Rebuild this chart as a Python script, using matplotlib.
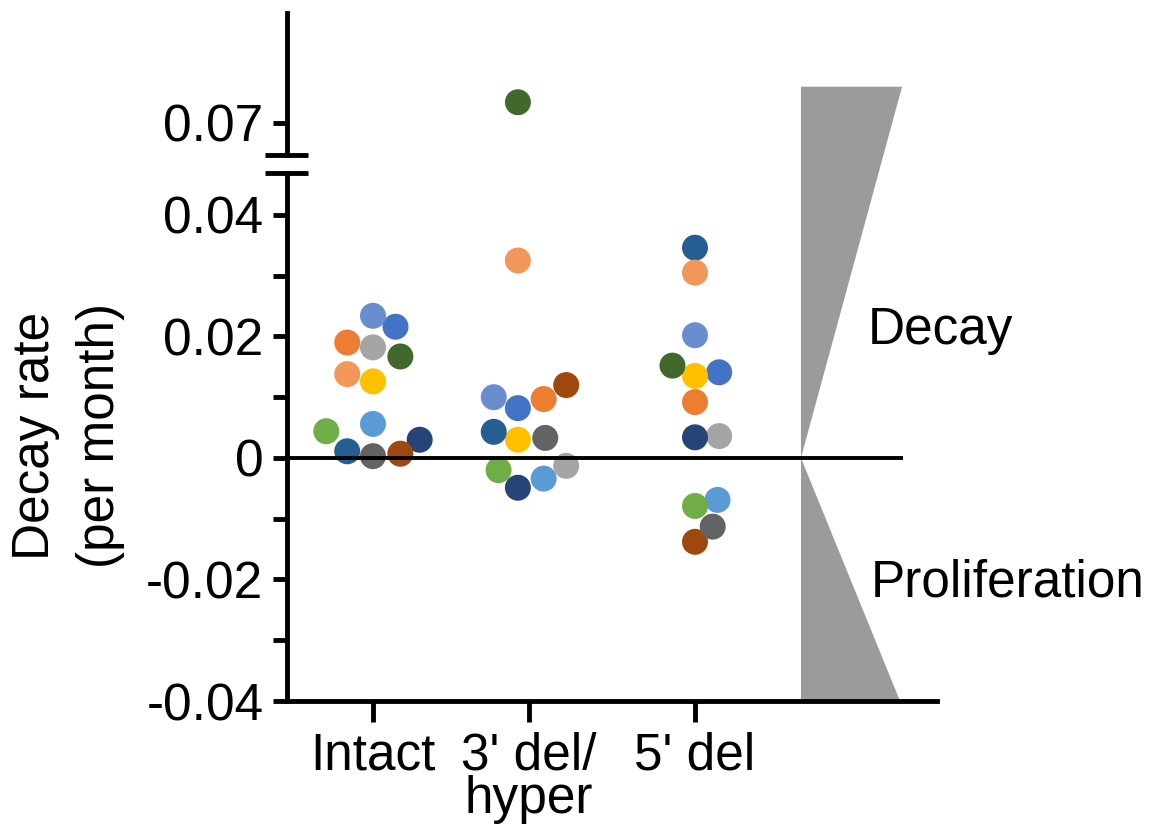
"""
Decay rate of proviral populations per participant, grouped by provirus type.
Broken y axis (0.07 shown on a separate upper segment).
"""

import numpy as np
import matplotlib
matplotlib.use('Agg')
import matplotlib.pyplot as plt
from matplotlib.lines import Line2D
from matplotlib.patches import Polygon

plt.rcParams['font.family'] = ['Liberation Sans', 'DejaVu Sans']

# Data -- one value per participant, same colour order in every group
GROUPS = ['Intact', "3' del/\nhyper", "5' del"]
GROUP_POS = [1, 1.97, 3]

COLORS = ['#4472C4', '#ED7D31', '#A5A5A5', '#FFC000', '#5B9BD5', '#70AD47',
          '#264478', '#9E480E', '#636363', '#255E91', '#43682B', '#698ED0',
          '#F1975A']

intact = [0.0216, 0.0190, 0.0182, 0.0126, 0.0056, 0.0044, 0.0030, 0.0007,
          0.0003, 0.0011, 0.0167, 0.0234, 0.0138]
del3_hyper = [0.0082, 0.0097, -0.0013, 0.0030, -0.0034, -0.0020, -0.0049,
              0.0120, 0.0033, 0.0043, 0.0734, 0.0100, 0.0325]
del5 = [0.0141, 0.0092, 0.0036, 0.0135, -0.0069, -0.0079, 0.0034, -0.0138,
        -0.0113, 0.0346, 0.0152, 0.0202, 0.0305]

# swarm offsets, in category units, so the dots do not sit on each other
off_intact = [0.14, -0.16, 0.0, 0.0, 0.0, -0.29, 0.29, 0.17, 0.0, -0.16,
              0.17, 0.0, -0.16]
off_del3 = [-0.07, 0.09, 0.23, -0.07, 0.09, -0.19, -0.07, 0.23, 0.10, -0.22,
            -0.07, -0.22, -0.07]
off_del5 = [0.15, 0.0, 0.15, 0.0, 0.14, 0.0, 0.0, 0.0, 0.11, 0.0, -0.14,
            0.0, 0.0]

W, H = 1153, 825
FS = 37
GREY = '#9b9b9b'


def px_box(left, top, right, bottom):
    return [left / W, 1 - bottom / H, (right - left) / W, (bottom - top) / H]


fig = plt.figure(figsize=(W / 100, H / 100), dpi=100)
fig.patch.set_facecolor('white')

ax = fig.add_axes(px_box(287, 173, 937, 701))
ax_top = fig.add_axes(px_box(287, 13, 937, 155))

XLIM = (0.466, 4.503)
for a in (ax, ax_top):
    a.set_xlim(*XLIM)
    a.patch.set_alpha(0)
    for s in ('top', 'right'):
        a.spines[s].set_visible(False)
    a.spines['left'].set_linewidth(3.5)

ax.set_ylim(-0.04, 0.0469)
ax_top.set_ylim(0.06475, 0.08803)
ax_top.spines['bottom'].set_visible(False)
ax.spines['bottom'].set_linewidth(3.5)

# points, drawn on both segments; clipping keeps each in its own part
for pos, vals, offs in zip(GROUP_POS, [intact, del3_hyper, del5],
                           [off_intact, off_del3, off_del5]):
    x = pos + np.array(offs)
    for a in (ax, ax_top):
        a.scatter(x, vals, s=350, c=COLORS, edgecolors='none', zorder=3)

# zero line
ax.hlines(0, XLIM[0], 4.29, color='black', lw=2.8, zorder=4)

# decay / proliferation wedges
ax.add_patch(Polygon([(3.658, 0.0611), (4.286, 0.0611), (3.658, 0.0)],
                     closed=True, facecolor=GREY, edgecolor='none',
                     clip_on=False, zorder=1))
ax.add_patch(Polygon([(3.658, 0.0), (3.658, -0.04), (4.273, -0.04)],
                     closed=True, facecolor=GREY, edgecolor='none',
                     clip_on=False, zorder=1))
ax.text(4.07, 0.0187, 'Decay', fontsize=FS, ha='left', va='baseline')
ax.text(4.09, -0.0228, 'Proliferation', fontsize=FS, ha='left',
        va='baseline')

# y ticks
yt = np.round(np.arange(-0.04, 0.0401, 0.01), 2)
ylabels = []
for v in yt:
    if abs(v) < 1e-9:
        ylabels.append('0')
    elif round(v * 100) % 2 == 0:
        ylabels.append(f'{v:.2f}')
    else:
        ylabels.append('')
ax.set_yticks(yt, ylabels)
ax_top.set_yticks([0.07], ['0.07'])
for a in (ax, ax_top):
    a.tick_params(axis='y', direction='out', length=10, width=3.5,
                  labelsize=FS, pad=7)

# x ticks
ax.set_xticks(GROUP_POS, GROUPS)
ax.tick_params(axis='x', direction='out', length=15, width=3.5,
               labelsize=FS, pad=7)
for lbl in ax.get_xticklabels():
    lbl.set_linespacing(0.86)
ax_top.set_xticks([])

# axis break marks
for yb in (155, 173):
    fig.add_artist(Line2D([265 / W, 308 / W], [1 - yb / H, 1 - yb / H],
                          lw=3.5, color='black', solid_capstyle='butt'))

fig.text(68 / W, 1 - 436 / H, 'Decay rate\n(per month)', fontsize=FS,
         rotation=90, ha='center', va='center', linespacing=1.4)

fig.savefig('out.png', dpi=100, facecolor='white')
